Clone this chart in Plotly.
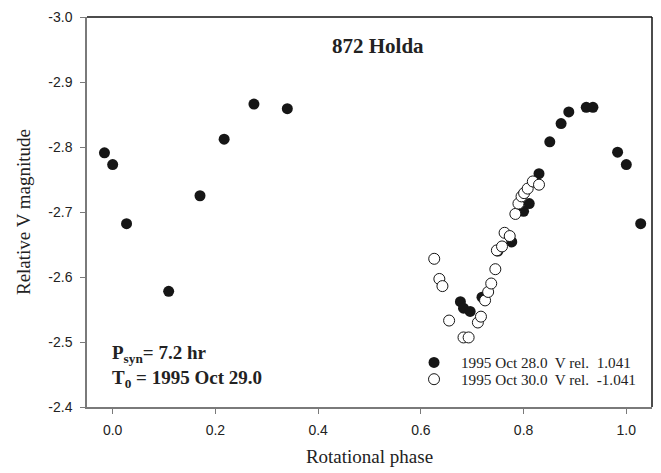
import plotly.graph_objects as go

# Rotational phase / relative V magnitude, 1995 Oct 28.0 session (filled)
phase_oct28 = [-0.016, 0.000, 0.027, 0.109, 0.170, 0.217, 0.275, 0.340,
               0.677, 0.683, 0.696, 0.719, 0.750, 0.777, 0.800, 0.811,
               0.830, 0.851, 0.873, 0.888, 0.922, 0.935, 0.983, 1.000, 1.028]
mag_oct28 = [-2.791, -2.773, -2.682, -2.578, -2.725, -2.812, -2.866, -2.859,
             -2.562, -2.552, -2.547, -2.569, -2.640, -2.654, -2.701, -2.713,
             -2.759, -2.808, -2.836, -2.854, -2.861, -2.861, -2.792, -2.773, -2.682]

# 1995 Oct 30.0 session (open)
phase_oct30 = [0.626, 0.636, 0.642, 0.655, 0.683, 0.693, 0.711, 0.717,
               0.725, 0.731, 0.737, 0.745, 0.748, 0.758, 0.763, 0.773,
               0.784, 0.790, 0.796, 0.801, 0.808, 0.818, 0.830]
mag_oct30 = [-2.628, -2.597, -2.586, -2.533, -2.507, -2.507, -2.530, -2.539,
             -2.564, -2.577, -2.590, -2.612, -2.641, -2.647, -2.668, -2.663,
             -2.697, -2.713, -2.724, -2.729, -2.736, -2.747, -2.742]

NBSP = "\u00a0"
legend_oct28 = f"1995 Oct 28.0{NBSP} V rel.{NBSP} 1.041"
legend_oct30 = f"1995 Oct 30.0{NBSP} V rel.{NBSP} -1.041"

x_ticks = [0.0, 0.2, 0.4, 0.6, 0.8, 1.0]
x_tick_labels = ["0.0", "0.2", "0.4", "0.6", "0.8", "1.0"]
y_ticks = [-3.0, -2.9, -2.8, -2.7, -2.6, -2.5, -2.4]
y_tick_labels = ["-3.0", "-2.9", "-2.8", "-2.7", "-2.6", "-2.5", "-2.4"]

serif = "Liberation Serif, Times New Roman, serif"
sans = "Liberation Sans, Arial, sans-serif"
ink = "#222"

fig = go.Figure()
fig.add_trace(go.Scatter(
    x=phase_oct28, y=mag_oct28, mode="markers", name=legend_oct28,
    legend="legend",
    marker=dict(size=11, color="#161616", line=dict(width=0)),
))
fig.add_trace(go.Scatter(
    x=phase_oct30, y=mag_oct30, mode="markers", name=legend_oct30,
    legend="legend2",
    marker=dict(size=11, color="white", line=dict(width=1, color="#161616")),
))

legend_style = dict(
    xanchor="left", yanchor="middle",
    bgcolor="rgba(0,0,0,0)", borderwidth=0,
    font=dict(family=serif, size=15.2, color=ink),
    itemwidth=44,
)

fig.update_layout(
    width=661, height=473,
    margin=dict(l=87, r=9, t=14, b=65),
    paper_bgcolor="white", plot_bgcolor="white",
    showlegend=True,
    legend=dict(x=0.5664, y=0.114, **legend_style),
    legend2=dict(x=0.5664, y=0.071, **legend_style),
    xaxis=dict(
        range=[-0.05, 1.05], tickvals=x_ticks, ticktext=x_tick_labels,
        showgrid=False, zeroline=False,
        showline=True, linecolor="#7a7a7a", linewidth=1.5,
        ticks="outside", ticklen=5, tickcolor="#7a7a7a", tickwidth=1,
        ticklabelstandoff=4,
        tickfont=dict(family=sans, size=14, color=ink),
        title=dict(text="Rotational phase", font=dict(family=serif, size=19, color=ink),
                   standoff=13),
    ),
    yaxis=dict(
        range=[-2.4, -3.0], tickvals=y_ticks, ticktext=y_tick_labels,
        showgrid=False, zeroline=False,
        showline=True, linecolor="#7a7a7a", linewidth=1.5,
        ticks="outside", ticklen=5, tickcolor="#7a7a7a", tickwidth=1,
        ticklabelstandoff=5,
        tickfont=dict(family=sans, size=14, color=ink),
        title=dict(text="Relative V magnitude", font=dict(family=serif, size=19, color=ink),
                   standoff=13),
    ),
    shapes=[
        dict(type="line", xref="paper", yref="paper", x0=0, x1=1, y0=1, y1=1,
             line=dict(color="#111", width=1.5)),
        dict(type="line", xref="paper", yref="paper", x0=1, x1=1, y0=0, y1=1,
             line=dict(color="#111", width=1.5)),
    ],
    annotations=[
        dict(text="<b>872 Holda</b>", xref="paper", yref="paper", x=0.515, y=0.925,
             xanchor="center", yanchor="middle", showarrow=False,
             font=dict(family=serif, size=21, color=ink)),
        dict(text="<b>P<sub>syn</sub>= 7.2 hr</b>", xref="paper", yref="paper",
             x=0.04, y=0.137, xanchor="left", yanchor="middle", showarrow=False,
             font=dict(family=serif, size=19, color=ink)),
        dict(text="<b>T<sub>0</sub> = 1995 Oct 29.0</b>", xref="paper", yref="paper",
             x=0.04, y=0.072, xanchor="left", yanchor="middle", showarrow=False,
             font=dict(family=serif, size=19, color=ink)),
    ],
)

fig.write_html("out.html")
